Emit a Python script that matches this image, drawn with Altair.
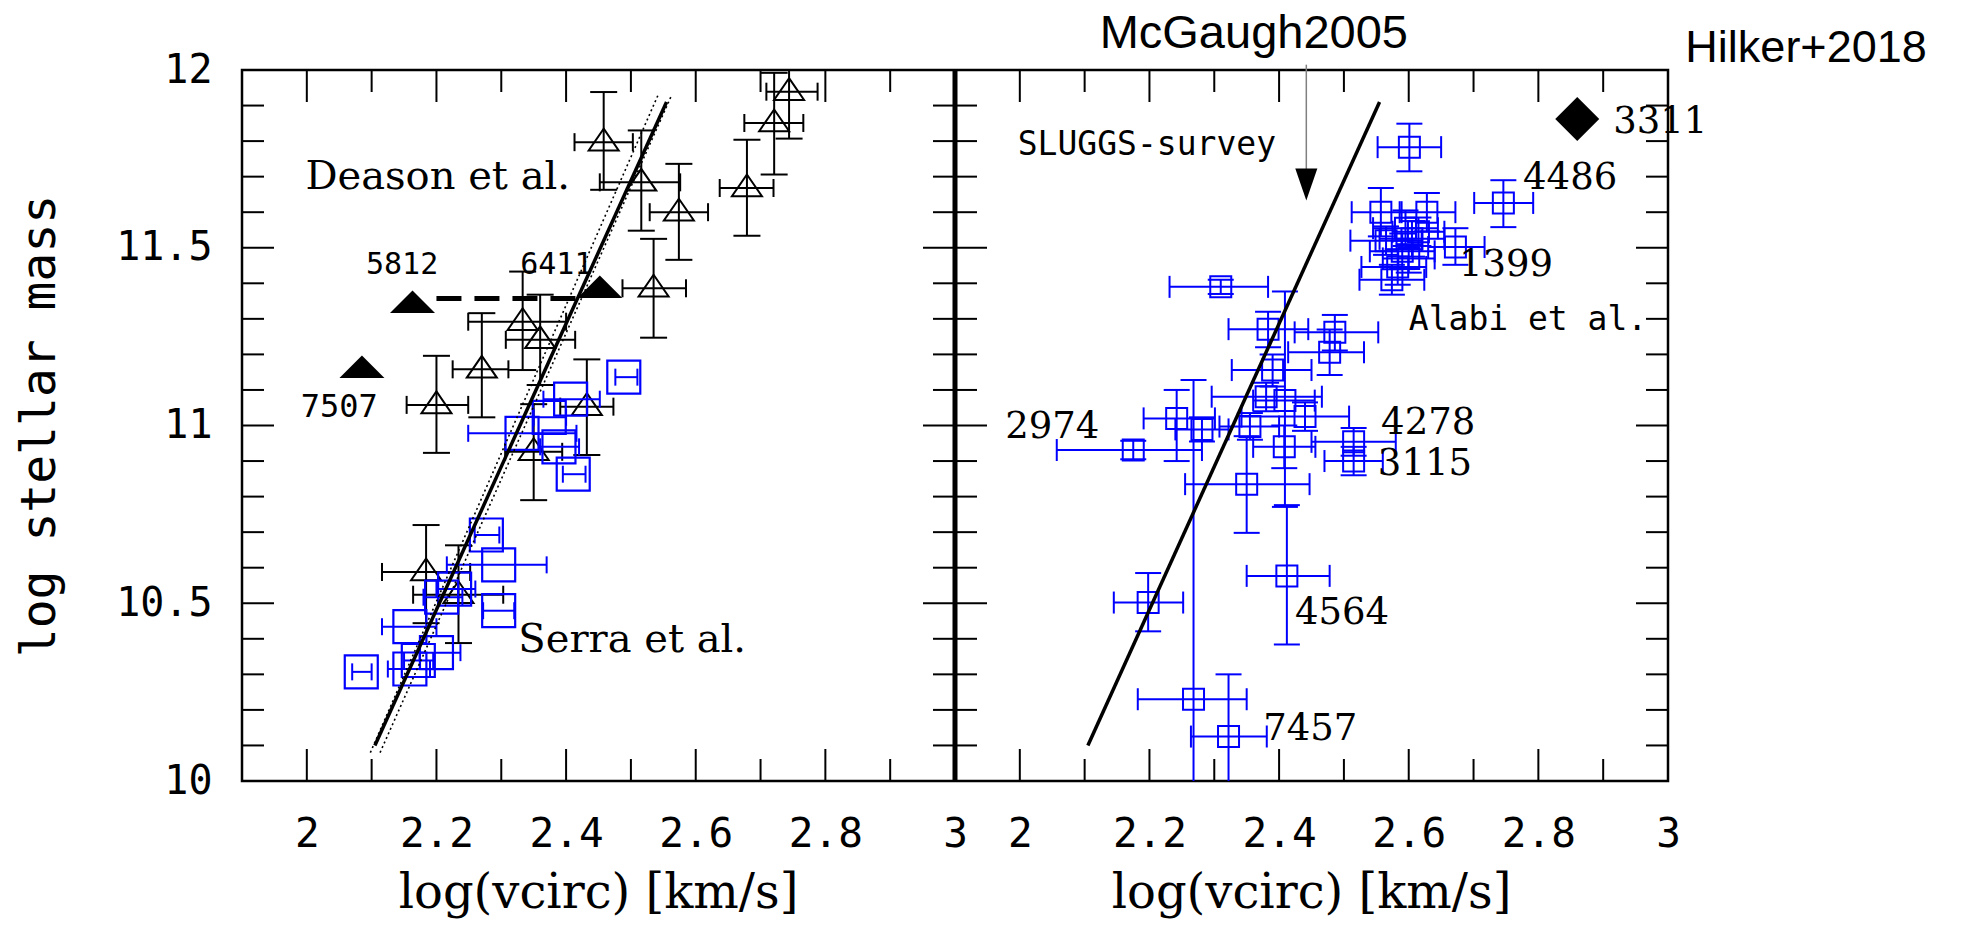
import altair as alt
import pandas as pd

# ---------------- data ----------------
# Deason et al. (open black triangles, left panel)
deason_x = [2.744, 2.721, 2.679, 2.458, 2.516, 2.574, 2.535, 2.333, 2.360, 2.270, 2.200, 2.432, 2.350, 2.184, 2.234]
deason_y = [11.939, 11.851, 11.668, 11.797, 11.684, 11.600, 11.386, 11.292, 11.241, 11.158, 11.058, 11.053, 10.926, 10.588, 10.524]
deason_xlo = [2.709, 2.675, 2.637, 2.413, 2.452, 2.529, 2.487, 2.249, 2.307, 2.225, 2.154, 2.391, 2.306, 2.116, 2.164]
deason_xhi = [2.788, 2.766, 2.720, 2.503, 2.576, 2.619, 2.585, 2.400, 2.414, 2.311, 2.249, 2.473, 2.394, 2.252, 2.303]
deason_ylo = [11.807, 11.706, 11.534, 11.663, 11.548, 11.466, 11.247, 11.156, 11.114, 11.023, 10.923, 10.917, 10.790, 10.444, 10.388]
deason_yhi = [12.070, 11.992, 11.804, 11.938, 11.830, 11.736, 11.525, 11.433, 11.368, 11.316, 11.196, 11.186, 11.060, 10.720, 10.663]

# Serra et al. (open blue squares, left panel)
serra_x = [2.489, 2.407, 2.374, 2.332, 2.389, 2.411, 2.277, 2.296, 2.296, 2.228, 2.208, 2.159, 2.200, 2.172, 2.159, 2.084]
serra_y = [11.136, 11.074, 11.023, 10.978, 10.940, 10.863, 10.692, 10.608, 10.479, 10.540, 10.517, 10.434, 10.361, 10.339, 10.315, 10.307]
serra_xlo = [2.476, 2.365, 2.350, 2.249, 2.360, 2.395, 2.259, 2.216, 2.272, 2.200, 2.180, 2.116, 2.174, 2.150, 2.125, 2.070]
serra_xhi = [2.510, 2.452, 2.400, 2.416, 2.420, 2.430, 2.297, 2.370, 2.320, 2.260, 2.240, 2.200, 2.237, 2.195, 2.190, 2.100]

# named galaxies (filled black triangles, left panel)
named_x = [2.163, 2.452, 2.085]
named_y = [11.348, 11.390, 11.165]
named_lab = ["5812", "6411", "7507"]
named_lab_x = [2.147, 2.385, 2.050]
named_lab_y = [11.451, 11.451, 11.052]
named_lab_size = [30, 30, 32]
link_x = [2.20, 2.43]
link_y = [11.357, 11.357]

# fit line (both panels) and dotted envelope (left panel)
fit_x = [2.105, 2.555]
fit_y = [10.10, 11.91]
dot_lo_x = [2.098, 2.542]
dot_hi_x = [2.113, 2.563]
dot_y = [10.08, 11.93]

# SLUGGS / Alabi et al. (small blue squares, right panel)
alabi_x = [2.198, 2.412, 2.268, 2.322, 2.350, 2.175, 2.515, 2.515, 2.310, 2.383, 2.486, 2.478, 2.390,
           2.409, 2.380, 2.440, 2.355, 2.408, 2.242, 2.281, 2.601, 2.746, 2.672, 2.557, 2.628, 2.595,
           2.605, 2.615, 2.590, 2.583, 2.574, 2.600, 2.565]
alabi_y = [10.502, 10.577, 10.230, 10.125, 10.835, 10.931, 10.900, 10.954, 11.390, 11.271, 11.262, 11.206, 11.156,
           11.070, 11.081, 11.025, 10.997, 10.940, 11.020, 10.989, 11.783, 11.626, 11.502, 11.600, 11.600, 11.555,
           11.525, 11.545, 11.490, 11.446, 11.410, 11.470, 11.520]
alabi_xlo = [2.145, 2.350, 2.182, 2.264, 2.255, 2.057, 2.470, 2.450, 2.231, 2.322, 2.424, 2.414, 2.327,
             2.360, 2.296, 2.342, 2.308, 2.360, 2.191, 2.240, 2.552, 2.701, 2.630, 2.512, 2.586, 2.545,
             2.555, 2.575, 2.540, 2.527, 2.524, 2.560, 2.510]
alabi_xhi = [2.252, 2.478, 2.350, 2.381, 2.447, 2.281, 2.560, 2.580, 2.383, 2.445, 2.553, 2.531, 2.450,
             2.455, 2.466, 2.508, 2.400, 2.456, 2.301, 2.322, 2.650, 2.792, 2.717, 2.589, 2.672, 2.645,
             2.655, 2.655, 2.640, 2.627, 2.624, 2.640, 2.620]
alabi_ylo = [10.421, 10.384, 9.330, 9.950, 10.698, 10.905, 10.860, 10.915, 11.370, 11.220, 11.211, 11.142, 11.110,
             10.771, 11.040, 10.985, 10.960, 10.880, 10.900, 10.955, 11.715, 11.558, 11.452, 11.532, 11.546, 11.505,
             11.475, 11.505, 11.440, 11.396, 11.368, 11.430, 11.480]
alabi_yhi = [10.585, 10.776, 11.128, 10.300, 10.970, 10.957, 10.940, 10.993, 11.410, 11.320, 11.311, 11.270, 11.200,
             11.377, 11.120, 11.065, 11.035, 11.000, 11.100, 11.023, 11.849, 11.690, 11.555, 11.668, 11.654, 11.605,
             11.575, 11.585, 11.540, 11.496, 11.452, 11.510, 11.560]

# Hilker+2018 (NGC 3311)
hilker_x = [2.86]
hilker_y = [11.862]

# McGaugh2005 arrow
mcg_x = [2.442]
mcg_line_y = [12.015, 11.70]
mcg_tip_y = [11.633]

# right-panel labels
r_lab = ["2974", "4278", "3115", "4564", "7457", "4486", "1399", "3311"]
r_lab_x = [2.050, 2.630, 2.625, 2.497, 2.448, 2.849, 2.750, 2.988]
r_lab_y = [10.996, 11.008, 10.893, 10.473, 10.146, 11.696, 11.451, 11.854]

# tick positions
x_ticks = [2.0, 2.1, 2.2, 2.3, 2.4, 2.5, 2.6, 2.7, 2.8, 2.9]
y_ticks = [10.1, 10.2, 10.3, 10.4, 10.5, 10.6, 10.7, 10.8, 10.9, 11.0,
           11.1, 11.2, 11.3, 11.4, 11.5, 11.6, 11.7, 11.8, 11.9]
x_labels = [2.0, 2.2, 2.4, 2.6, 2.8, 3.0]
y_labels = [10, 10.5, 11, 11.5, 12]

# ---------------- layout ----------------
OFF = 1.1                 # the right panel sits 1.1 units further on the shared x scale
XMIN, XMAX = 1.9, 3.0
YMIN, YMAX = 10.0, 12.0
W, H = 1426, 711
PXX = W / (XMAX + OFF - XMIN)
PXY = H / (YMAX - YMIN)
LONG, SHORT = 32, 22

MONO = "DejaVu Sans Mono"
SERIF = "DejaVu Serif"
SANS = "Liberation Sans"
BLUE = "#0000ff"

XS = alt.Scale(domain=[XMIN, XMAX + OFF], nice=False, zero=False)
YS = alt.Scale(domain=[YMIN, YMAX], nice=False, zero=False)

xaxis = alt.Axis(
    values=x_labels + [v + OFF for v in x_labels],
    labelExpr="datum.value < 3.05 ? format(datum.value, '~g') : format(datum.value - 1.1, '.1~f')",
    labelFont=MONO, labelFontSize=41, labelColor="black", labelPadding=33,
    labelFlush=False, labelOverlap=False, labelBound=False,
    ticks=False, tickSize=0, domain=False, grid=False,
)
yaxis = alt.Axis(
    values=y_labels, format="~g",
    labelFont=MONO, labelFontSize=40, labelColor="black", labelPadding=30,
    labelOverlap=False, labelBound=False,
    ticks=False, tickSize=0, domain=False, grid=False,
    titleFont=MONO, titleFontSize=48, titleColor="black", titleFontWeight="normal",
    titleX=-202, titleY=H / 2, titleBaseline="middle", titleAngle=270,
)


def X(f):
    return alt.X(f, type="quantitative", scale=XS, axis=xaxis, title=None)


def Y(f):
    return alt.Y(f, type="quantitative", scale=YS, axis=yaxis, title="log stellar mass")


# ---------------- tables ----------------
deason = pd.DataFrame(dict(x=deason_x, y=deason_y, xlo=deason_xlo, xhi=deason_xhi,
                           ylo=deason_ylo, yhi=deason_yhi))
serra = pd.DataFrame(dict(x=serra_x, y=serra_y, xlo=serra_xlo, xhi=serra_xhi))
alabi = pd.DataFrame(dict(x=alabi_x, y=alabi_y, xlo=alabi_xlo, xhi=alabi_xhi,
                          ylo=alabi_ylo, yhi=alabi_yhi))
for c in ["x", "xlo", "xhi"]:
    alabi[c] = alabi[c] + OFF

named = pd.DataFrame(dict(x=named_x, y=named_y))
named_lab_df = pd.DataFrame(dict(x=named_lab_x, y=named_lab_y, t=named_lab, s=named_lab_size))
link = pd.DataFrame(dict(x=[link_x[0]], x2=[link_x[1]], y=[link_y[0]], y2=[link_y[1]]))

fits = pd.DataFrame(dict(x=[fit_x[0], fit_x[0] + OFF], x2=[fit_x[1], fit_x[1] + OFF],
                         y=[fit_y[0]] * 2, y2=[fit_y[1]] * 2))
dots = pd.DataFrame(dict(x=[dot_lo_x[0], dot_hi_x[0]], x2=[dot_lo_x[1], dot_hi_x[1]],
                         y=[dot_y[0]] * 2, y2=[dot_y[1]] * 2))

hilker = pd.DataFrame(dict(x=[v + OFF for v in hilker_x], y=hilker_y))
mcg_line = pd.DataFrame(dict(x=[mcg_x[0] + OFF], y=[mcg_line_y[0]], y2=[mcg_line_y[1]]))
mcg_head = pd.DataFrame(dict(x=[mcg_x[0] + OFF], y=[mcg_tip_y[0] + 16 / PXY]))
r_lab_df = pd.DataFrame(dict(x=[v + OFF for v in r_lab_x], y=r_lab_y, t=r_lab))

rows = []
for off in (0.0, OFF):
    for v in x_ticks:
        L = (LONG if round(v * 10) % 2 == 0 else SHORT) / PXY
        rows.append(dict(x=v + off, x2=v + off, y=YMIN, y2=YMIN + L))
        rows.append(dict(x=v + off, x2=v + off, y=YMAX, y2=YMAX - L))
    for v in y_ticks:
        L = (LONG if round(v * 10) % 5 == 0 else SHORT) / PXX
        rows.append(dict(x=XMIN + off, x2=XMIN + off + L, y=v, y2=v))
        rows.append(dict(x=XMAX + off, x2=XMAX + off - L, y=v, y2=v))
ticks = pd.DataFrame(rows)
divider = pd.DataFrame(dict(x=[XMAX], y=[YMIN], y2=[YMAX]))

texts_serif = pd.DataFrame(dict(x=[2.202, 2.502], y=[11.699, 10.397], t=["Deason et al.", "Serra et al."]))
texts_mono = pd.DataFrame(dict(x=[3.296, 3.884], y=[11.789, 11.297], t=["SLUGGS-survey", "Alabi et al."]))
xtitles = pd.DataFrame(dict(x=[(XMIN + XMAX) / 2, (XMIN + XMAX) / 2 + OFF], y=[9.643, 9.643],
                            t=["log(vcirc) [km/s]", "log(vcirc) [km/s]"]))
top_texts = pd.DataFrame(dict(x=[3.461, 4.313], y=[12.062, 12.0225], t=["McGaugh2005", "Hilker+2018"],
                              s=[47, 45]))

TRI_OPEN = "M0,-0.9L1,0.55L-1,0.55Z"
TRI_FILL = "M0,-0.5L1,0.5L-1,0.5Z"
DIAMOND = "M0,-1L1,0L0,1L-1,0Z"
ARROW = "M-0.69,-1L0.69,-1L0,1Z"


def hrule(df, color, w, clip=True):
    return alt.Chart(df).mark_rule(color=color, strokeWidth=w, clip=clip).encode(
        x=X("xlo"), x2=alt.X2("xhi"), y=Y("y"))


def vrule(df, color, w, clip=True):
    return alt.Chart(df).mark_rule(color=color, strokeWidth=w, clip=clip).encode(
        x=X("x"), y=Y("ylo"), y2=alt.Y2("yhi"))


def caps(df, xf, yf, orient, size, color, w):
    return alt.Chart(df).mark_tick(orient=orient, size=size, thickness=w, color=color,
                                   opacity=1, clip=True).encode(x=X(xf), y=Y(yf))


layers = [
    # frame ticks
    alt.Chart(ticks).mark_rule(color="black", strokeWidth=2).encode(
        x=X("x"), x2=alt.X2("x2"), y=Y("y"), y2=alt.Y2("y2")),
    alt.Chart(divider).mark_rule(color="black", strokeWidth=5).encode(
        x=X("x"), y=Y("y"), y2=alt.Y2("y2")),
    # Deason error bars
    hrule(deason, "black", 2), vrule(deason, "black", 2),
    caps(deason, "xlo", "y", "vertical", 18, "black", 2),
    caps(deason, "xhi", "y", "vertical", 18, "black", 2),
    caps(deason, "x", "ylo", "horizontal", 27, "black", 2),
    caps(deason, "x", "yhi", "horizontal", 27, "black", 2),
    alt.Chart(deason).mark_point(shape=TRI_OPEN, size=900, filled=False, color="black",
                                 strokeWidth=2, opacity=1).encode(x=X("x"), y=Y("y")),
    # Serra squares
    hrule(serra, BLUE, 2),
    caps(serra, "xlo", "y", "vertical", 17, BLUE, 2),
    caps(serra, "xhi", "y", "vertical", 17, BLUE, 2),
    alt.Chart(serra).mark_point(shape="square", size=1089, filled=False, color=BLUE,
                                strokeWidth=2.2, opacity=1).encode(x=X("x"), y=Y("y")),
    # Alabi squares
    hrule(alabi, BLUE, 2), vrule(alabi, BLUE, 2),
    caps(alabi, "xlo", "y", "vertical", 22, BLUE, 2),
    caps(alabi, "xhi", "y", "vertical", 22, BLUE, 2),
    caps(alabi, "x", "ylo", "horizontal", 26, BLUE, 2),
    caps(alabi, "x", "yhi", "horizontal", 26, BLUE, 2),
    alt.Chart(alabi).mark_point(shape="square", size=441, filled=False, color=BLUE,
                                strokeWidth=2, opacity=1).encode(x=X("x"), y=Y("y")),
    # fit lines
    alt.Chart(dots).mark_rule(color="black", strokeWidth=1.6, strokeDash=[2, 3]).encode(
        x=X("x"), x2=alt.X2("x2"), y=Y("y"), y2=alt.Y2("y2")),
    alt.Chart(fits).mark_rule(color="black", strokeWidth=3.5).encode(
        x=X("x"), x2=alt.X2("x2"), y=Y("y"), y2=alt.Y2("y2")),
    # named galaxies
    alt.Chart(link).mark_rule(color="black", strokeWidth=5, strokeDash=[25, 13]).encode(
        x=X("x"), x2=alt.X2("x2"), y=Y("y"), y2=alt.Y2("y2")),
    alt.Chart(named).mark_point(shape=TRI_FILL, size=2025, filled=True, color="black",
                                opacity=1).encode(x=X("x"), y=Y("y")),
    alt.Chart(named_lab_df).mark_text(font=MONO, color="black", align="center",
                                      baseline="middle").encode(
        x=X("x"), y=Y("y"), text="t:N", size=alt.Size("s:Q", scale=None, legend=None)),
    # Hilker 3311
    alt.Chart(hilker).mark_point(shape=DIAMOND, size=1936, filled=True, color="black",
                                 opacity=1).encode(x=X("x"), y=Y("y")),
    # McGaugh arrow
    alt.Chart(mcg_line).mark_rule(color="#808080", strokeWidth=1.5).encode(
        x=X("x"), y=Y("y"), y2=alt.Y2("y2")),
    alt.Chart(mcg_head).mark_point(shape=ARROW, size=1024, filled=True, color="black",
                                   opacity=1).encode(x=X("x"), y=Y("y")),
    # texts
    alt.Chart(r_lab_df).mark_text(font=SERIF, fontSize=37, color="black", align="center",
                                  baseline="middle").encode(x=X("x"), y=Y("y"), text="t:N"),
    alt.Chart(texts_serif).mark_text(font=SERIF, fontSize=40, color="black", align="center",
                                     baseline="middle").encode(x=X("x"), y=Y("y"), text="t:N"),
    alt.Chart(texts_mono).mark_text(font=MONO, fontSize=33, color="black", align="center",
                                    baseline="middle").encode(x=X("x"), y=Y("y"), text="t:N"),
    alt.Chart(xtitles).mark_text(font=SERIF, fontSize=48, color="black", align="center",
                                 baseline="alphabetic").encode(x=X("x"), y=Y("y"), text="t:N"),
    alt.Chart(top_texts).mark_text(font=SANS, color="black", align="center",
                                   baseline="alphabetic").encode(
        x=X("x"), y=Y("y"), text="t:N", size=alt.Size("s:Q", scale=None, legend=None)),
]

chart = alt.layer(*layers).properties(
    width=W, height=H,
    autosize=alt.AutoSizeParams(type="none"),
    padding={"left": 242, "top": 70, "right": 297, "bottom": 146},
).configure_view(stroke="black", strokeWidth=2.5).configure_axis(grid=False)

chart.save("out.html", embed_options={"renderer": "svg", "actions": False})
